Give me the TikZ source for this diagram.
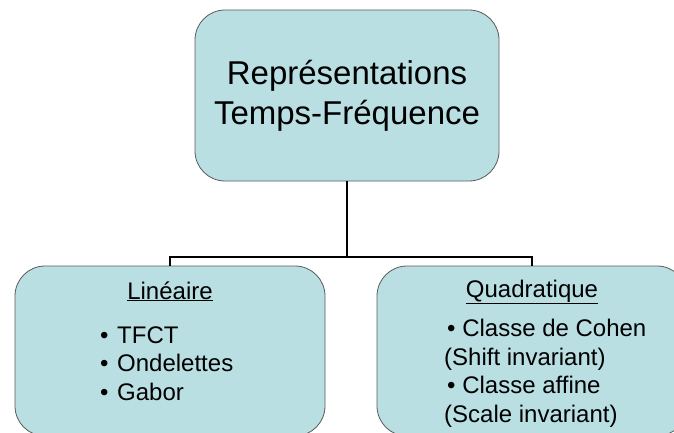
\documentclass[tikz,border=0pt]{standalone}
\usepackage{fontspec}
\setmainfont{Liberation Sans}
\usetikzlibrary{positioning}
\definecolor{boxfill}{RGB}{185,223,227}
\definecolor{boxline}{RGB}{90,90,90}

\begin{document}
\begin{tikzpicture}[x=1pt,y=-1pt,
	rbox/.style={draw=boxline, fill=boxfill, line width=0.8pt, rounded corners=30pt, inner sep=0pt},
	link/.style={line width=1.6pt},
	bigtxt/.style={font=\fontsize{33}{40}\selectfont, align=center},
	txt/.style={font=\fontsize{24}{28.5}\selectfont, align=left, inner sep=0pt}]
	
	\useasboundingbox (0,0) rectangle (674,433);
	
	% boxes
	\node[rbox, bigtxt, minimum width=304pt, minimum height=171pt] (rtf) at (347,95.5) {Représentations\\Temps-Fréquence};
	\node[rbox, minimum width=310pt, minimum height=170pt] (lin) at (170,351) {};
	\node[rbox, minimum width=310pt, minimum height=170pt] (quad) at (532,351) {};
	
	% texts in the lower boxes (base = last line)
	\node[txt, anchor=base] (lintitle) at (170,299) {\underline{Linéaire}};
	\node[txt, anchor=base west] (linlist) at (100,400) {\makebox[17pt][l]{\textbullet}TFCT\\\makebox[17pt][l]{\textbullet}Ondelettes\\\makebox[17pt][l]{\textbullet}Gabor};
	
	\node[txt, anchor=base] (quadtitle) at (532,297) {\underline{Quadratique}};
	\node[txt, anchor=base west] (quadlist) at (444,422) {\hspace{3pt}\textbullet\ Classe de Cohen\\(Shift invariant)\\\hspace{3pt}\textbullet\ Classe affine\\(Scale invariant)};
	
	% tree
	\coordinate (fork) at (347,257);
	\draw[link] (rtf.south) -- (fork);
	\draw[link] (lin.north) |- (fork) -| (quad.north);
\end{tikzpicture}
\end{document}
